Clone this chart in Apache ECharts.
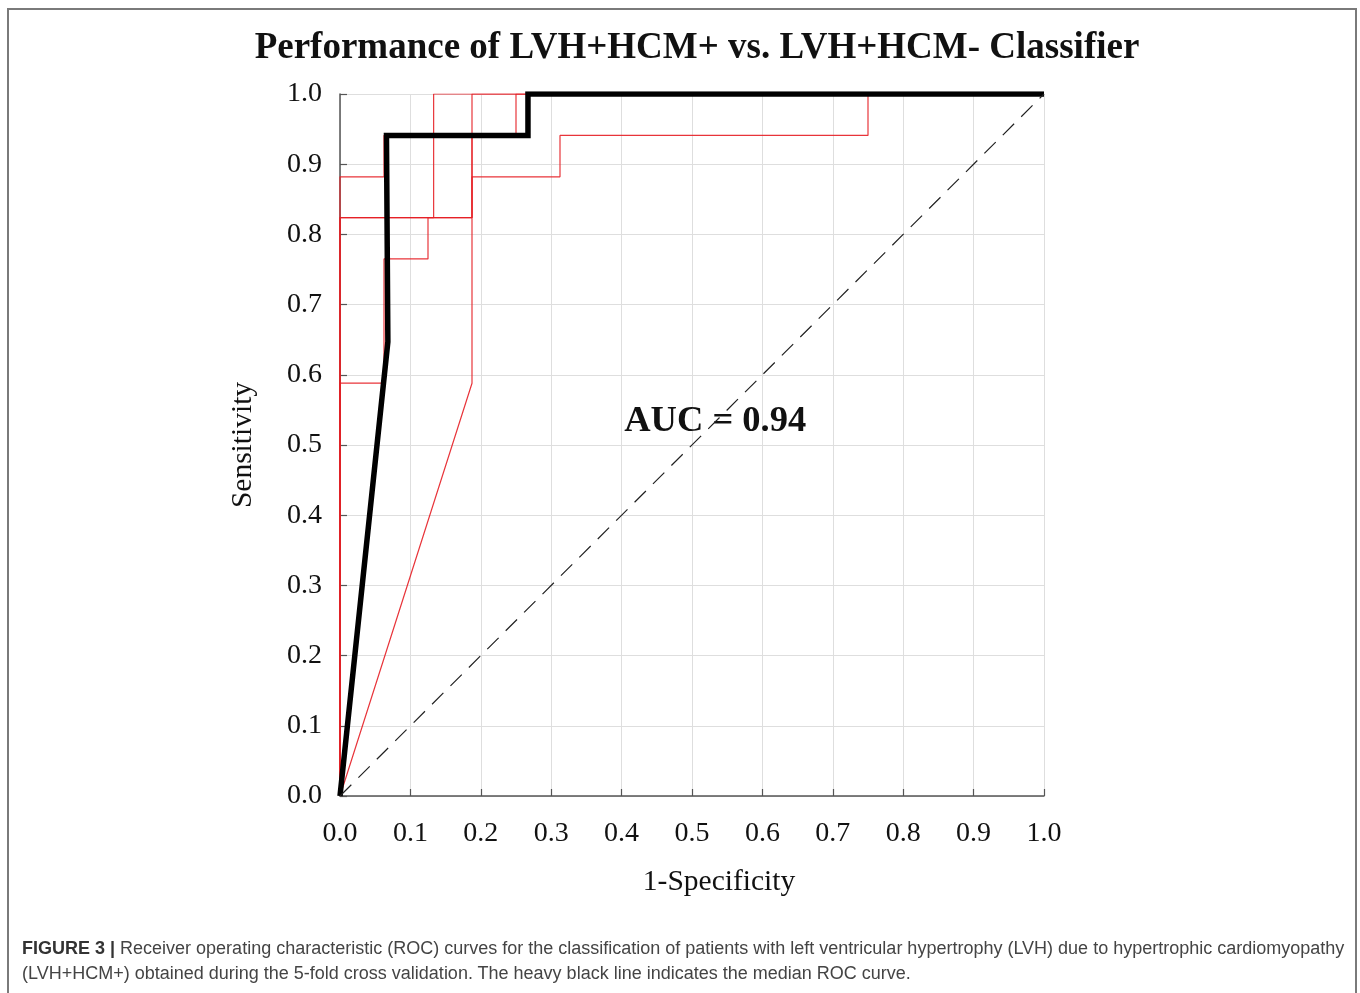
<!DOCTYPE html>
<html>
<head>
<meta charset="utf-8">
<title>ROC LVH+HCM+ vs LVH+HCM-</title>
<script src="https://cdn.jsdelivr.net/npm/echarts@6/dist/echarts.min.js"></script>
<style>
  html, body { margin: 0; padding: 0; background: #fff; }
  #chart { position: absolute; left: 0; top: 0; width: 1360px; height: 993px; }
  #frame {
    position: absolute; left: 7px; top: 8px; width: 1346px; height: 990px;
    border: 2px solid #7a7a7a; border-bottom: none; pointer-events: none;
  }
  #caption {
    position: absolute; left: 22px; top: 936px; width: 1330px;
    font-family: 'Liberation Sans', Arial, sans-serif; font-size: 18px;
    line-height: 25px; color: #444; white-space: nowrap;
  }
  #caption b { color: #333; }
</style>
</head>
<body>
<div id="chart"></div>
<div id="frame"></div>
<div id="caption">
  <b>FIGURE 3 |</b> Receiver operating characteristic (ROC) curves for the classification of patients with left ventricular hypertrophy (LVH) due to hypertrophic cardiomyopathy<br>
  (LVH+HCM+) obtained during the 5-fold cross validation. The heavy black line indicates the median ROC curve.
</div>
<script>
// ROC curves of the 5 cross-validation folds, [1-specificity, sensitivity]
const fold1 = [[0, 0], [0.1875, 0.588], [0.1875, 0.882], [0.3125, 0.882], [0.3125, 0.941], [0.75, 0.941], [0.75, 1], [1, 1]]
const fold2 = [[0, 0], [0, 0.824], [0.1875, 0.824], [0.1875, 1], [1, 1]]
const fold3 = [[0, 0], [0, 0.824], [0.133, 0.824], [0.133, 1], [1, 1]]
const fold4 = [[0, 0], [0, 0.588], [0.0625, 0.588], [0.0625, 0.765], [0.125, 0.765], [0.125, 0.824],
  [0.1875, 0.824], [0.1875, 0.941], [0.25, 0.941], [0.25, 1], [1, 1]]
const fold5 = [[0, 0], [0, 0.882], [0.0625, 0.882], [0.0625, 0.941], [0.267, 0.941], [0.267, 1], [1, 1]]
const folds = [fold1, fold2, fold3, fold4, fold5]

// median ROC curve (heavy black line)
const medianRoc = [[0, 0], [0.068, 0.647], [0.066, 0.941], [0.267, 0.941], [0.267, 1], [1, 1]]
// chance line
const chanceLine = [[0, 0], [1, 1]]

const aucText = 'AUC = 0.94'
const aucPos = [0.533, 0.533]

const serif = "'Liberation Serif', 'Times New Roman', serif"

const chart = echarts.init(document.getElementById('chart'))

const foldSeries = folds.map((d, i) => ({
  name: 'Fold ' + (i + 1),
  type: 'line',
  data: d,
  showSymbol: false,
  silent: true,
  z: 2,
  lineStyle: { color: '#e51e25', width: 1.2, opacity: 0.9 }
}))

const option = {
  backgroundColor: '#fff',
  animation: false,
  title: {
    text: 'Performance of LVH+HCM+ vs. LVH+HCM- Classifier',
    left: 692,
    textAlign: 'center',
    top: 25,
    textStyle: { fontFamily: serif, fontSize: 37, fontWeight: 'bold', color: '#111' }
  },
  grid: { left: 340, right: 316, top: 94, bottom: 197 },
  xAxis: {
    type: 'value', min: 0, max: 1, interval: 0.1,
    name: '1-Specificity',
    nameLocation: 'middle', nameGap: 71,
    nameTextStyle: { fontFamily: serif, fontSize: 29.5, color: '#111', padding: [0, 0, 0, 54] },
    axisLine: { show: true, lineStyle: { color: '#555', width: 1.5 } },
    axisTick: { show: true, inside: true, length: 7, lineStyle: { color: '#555', width: 1.2 } },
    axisLabel: {
      fontFamily: serif, fontSize: 28, color: '#111', margin: 24,
      formatter: v => v.toFixed(1)
    },
    splitLine: { show: true, lineStyle: { color: '#dedede', width: 1 } }
  },
  yAxis: {
    type: 'value', min: 0, max: 1, interval: 0.1,
    name: 'Sensitivity',
    nameLocation: 'middle', nameGap: 82,
    nameTextStyle: { fontFamily: serif, fontSize: 29.5, color: '#111' },
    axisLine: { show: true, lineStyle: { color: '#555', width: 1.5 } },
    axisTick: { show: true, inside: true, length: 7, lineStyle: { color: '#555', width: 1.2 } },
    axisLabel: {
      fontFamily: serif, fontSize: 28, color: '#111', margin: 18,
      padding: [6, 0, 0, 0],
      formatter: v => v.toFixed(1)
    },
    splitLine: { show: true, lineStyle: { color: '#dedede', width: 1 } }
  },
  series: [
    ...foldSeries,
    {
      name: 'Median',
      type: 'line',
      data: medianRoc,
      showSymbol: false,
      silent: true,
      z: 4,
      lineStyle: { color: '#000', width: 5.5, join: 'miter' }
    },
    {
      name: 'Chance',
      type: 'line',
      data: chanceLine,
      showSymbol: false,
      silent: true,
      z: 5,
      lineStyle: { color: '#222', width: 1.2, type: [16, 10] },
      markPoint: {
        symbol: 'circle', symbolSize: 0, silent: true,
        data: [{ coord: aucPos, value: aucText }],
        label: {
          show: true, position: 'inside', formatter: aucText,
          fontFamily: serif, fontSize: 36.5, fontWeight: 'bold', color: '#111'
        }
      }
    }
  ]
}

chart.setOption(option)
window.addEventListener('resize', () => chart.resize())
</script>
</body>
</html>
